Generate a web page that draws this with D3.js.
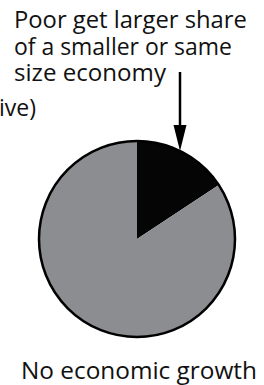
<!DOCTYPE html>
<html>
<head>
<meta charset="utf-8">
<script src="https://cdn.jsdelivr.net/npm/d3@7"></script>
<style>
  html, body { margin: 0; padding: 0; background: #fff; }
  svg { display: block; }
  text { font-family: "Open Sans", "Noto Sans", sans-serif; fill: #111; }
</style>
</head>
<body>
<svg></svg>
<script>
// data
const sliceNames = ['Poor', 'Everyone else'];
const sliceShares = [15.7, 84.3];
const sliceColors = ['#050505', '#8c8d90'];
const noteLines = ['Poor get larger share', 'of a smaller or same', 'size economy'];
const sideLabel = '(relative)';
const caption = 'No economic growth';

const width = 264;
const height = 385;

const svg = d3.select('svg')
  .attr('width', width)
  .attr('height', height)
  .attr('viewBox', [0, 0, width, height]);

const cx = 137, cy = 239, r = 98;

const pie = d3.pie().sort(null).value(d => d)(sliceShares);
const arc = d3.arc().innerRadius(0).outerRadius(r);

const g = svg.append('g').attr('transform', `translate(${cx},${cy})`);

g.selectAll('path')
  .data(pie)
  .join('path')
  .attr('d', arc)
  .attr('fill', (d, i) => sliceColors[i]);

g.append('circle')
  .attr('r', r)
  .attr('fill', 'none')
  .attr('stroke', '#000')
  .attr('stroke-width', 2.5);

// shrink/grow a text to a target width
function fit(sel, w) {
  const cur = sel.node().getComputedTextLength();
  const fs = parseFloat(sel.attr('font-size'));
  sel.attr('font-size', fs * w / cur);
}

const note = svg.append('g');
const noteWidths = [233, 218, 152];
noteLines.forEach((t, i) => {
  const tx = note.append('text')
    .attr('x', 14)
    .attr('y', 28 + i * 26.5)
    .attr('font-size', 20)
    .text(t);
  fit(tx, noteWidths[i]);
});

// arrow down onto the pie edge
const ax = 180;
const topY = 72;
const tipY = cy - Math.sqrt(r * r - (ax - cx) * (ax - cx));
const headLen = 26, headW = 6.5;
svg.append('line')
  .attr('x1', ax).attr('x2', ax)
  .attr('y1', topY).attr('y2', tipY - headLen + 2)
  .attr('stroke', '#000')
  .attr('stroke-width', 2.5);
svg.append('path')
  .attr('d', `M${ax - headW},${tipY - headLen} L${ax},${tipY} L${ax + headW},${tipY - headLen} Z`)
  .attr('fill', '#000');

// label running off the left edge, only its tail shows
svg.append('text')
  .attr('x', 36)
  .attr('y', 116)
  .attr('text-anchor', 'end')
  .attr('font-size', 23)
  .text(sideLabel);

const cap = svg.append('text')
  .attr('x', 21)
  .attr('y', 379)
  .attr('font-size', 20)
  .text(caption);
fit(cap, 236);
</script>
</body>
</html>
